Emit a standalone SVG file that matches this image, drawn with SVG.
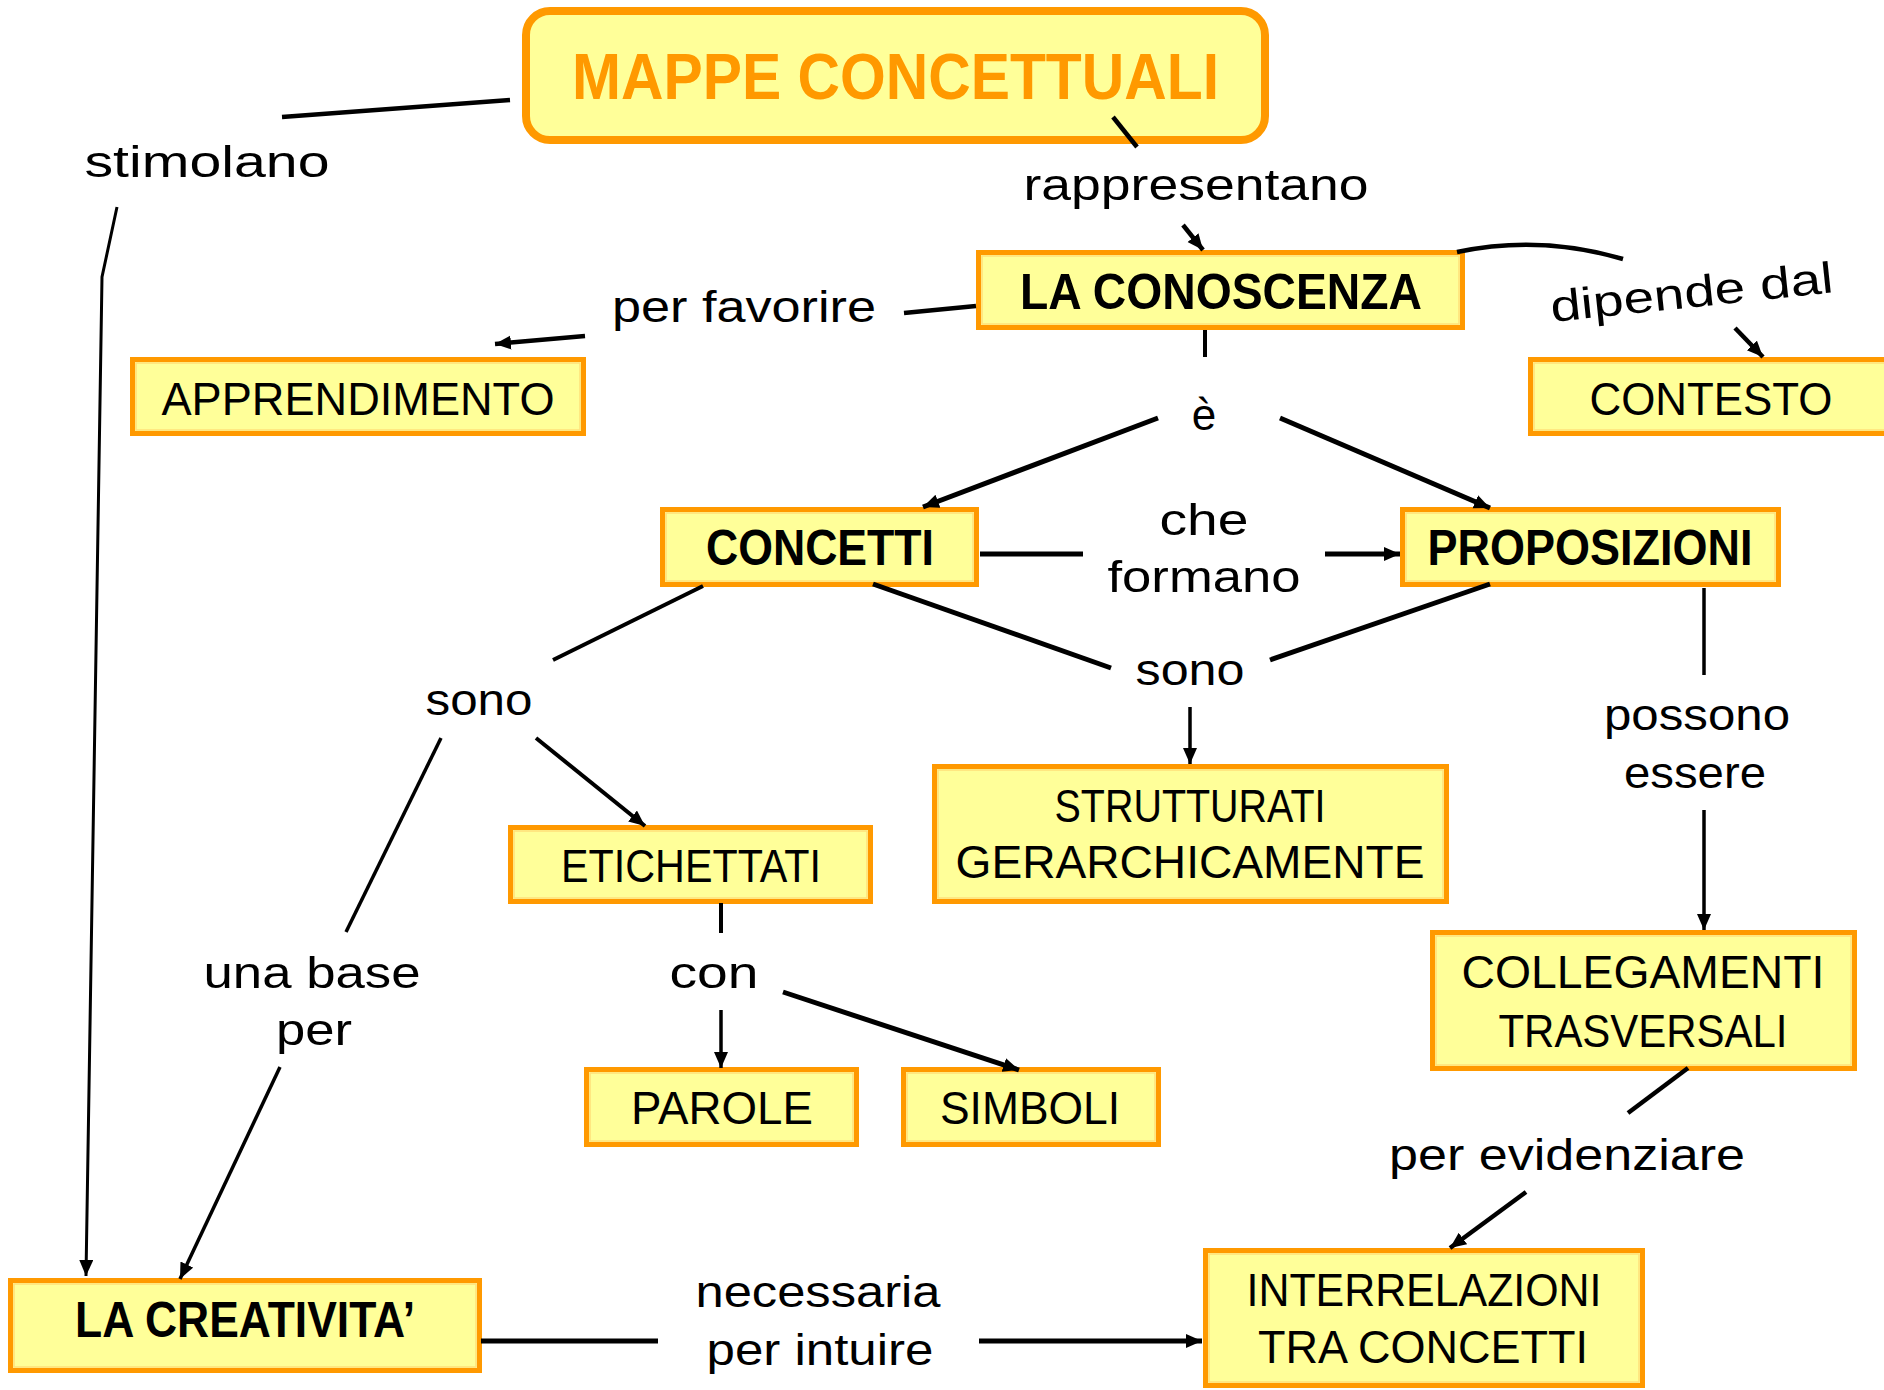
<svg xmlns="http://www.w3.org/2000/svg" width="1884" height="1390" viewBox="0 0 1884 1390">
<style>
.box{fill:#FFFF99;stroke:#FF9900;stroke-width:5}
.inner{fill:none;stroke:#FFE07A;stroke-width:1.5}
.t{font-family:"Liberation Sans",Arial,sans-serif;fill:#000;text-anchor:middle}
.n{font-size:46px}
.b{font-size:50px;font-weight:bold}
.lbl{font-size:44px}
.c{fill:none;stroke:#000;stroke-linecap:butt}
</style>
<defs>
<marker id="ah" markerUnits="userSpaceOnUse" markerWidth="18" markerHeight="16" refX="16" refY="7" orient="auto">
<path d="M0,0 L16,7 L0,14 z" fill="#000"/>
</marker>
</defs>
<rect width="1884" height="1390" fill="#fff"/>

<g id="labels">
<text class="t lbl" x="207" y="177" textLength="245" lengthAdjust="spacingAndGlyphs">stimolano</text>
<text class="t lbl" x="1196" y="200" textLength="345" lengthAdjust="spacingAndGlyphs">rappresentano</text>
<text class="t lbl" x="744" y="322" textLength="264" lengthAdjust="spacingAndGlyphs">per favorire</text>
<text class="t lbl" x="1552" y="322" style="text-anchor:start" transform="rotate(-6 1552 322)" textLength="284" lengthAdjust="spacingAndGlyphs">dipende dal</text>
<text class="t lbl" x="1204" y="430">è</text>
<text class="t lbl" x="1204" y="535" textLength="89" lengthAdjust="spacingAndGlyphs">che</text>
<text class="t lbl" x="1204" y="592" textLength="193" lengthAdjust="spacingAndGlyphs">formano</text>
<text class="t lbl" x="479" y="715" textLength="107" lengthAdjust="spacingAndGlyphs">sono</text>
<text class="t lbl" x="1190" y="685" textLength="109" lengthAdjust="spacingAndGlyphs">sono</text>
<text class="t lbl" x="1697" y="730" textLength="186" lengthAdjust="spacingAndGlyphs">possono</text>
<text class="t lbl" x="1695" y="788" textLength="142" lengthAdjust="spacingAndGlyphs">essere</text>
<text class="t lbl" x="312" y="988" textLength="217" lengthAdjust="spacingAndGlyphs">una base</text>
<text class="t lbl" x="314" y="1045" textLength="76" lengthAdjust="spacingAndGlyphs">per</text>
<text class="t lbl" x="714" y="988" textLength="89" lengthAdjust="spacingAndGlyphs">con</text>
<text class="t lbl" x="1567" y="1170" textLength="356" lengthAdjust="spacingAndGlyphs">per evidenziare</text>
<text class="t lbl" x="818" y="1307" textLength="245" lengthAdjust="spacingAndGlyphs">necessaria</text>
<text class="t lbl" x="820" y="1365" textLength="227" lengthAdjust="spacingAndGlyphs">per intuire</text>
</g>

<g id="node-mappe">
<rect x="526" y="11" width="739" height="129" rx="24" fill="#FFFF99" stroke="#FF9900" stroke-width="8"/>
<text class="t" x="895.5" y="99" style="font-size:64px;font-weight:bold;fill:#FF9900" textLength="647" lengthAdjust="spacingAndGlyphs">MAPPE CONCETTUALI</text>
</g>
<g id="node-conoscenza">
<rect class="box" x="978.5" y="252.5" width="484" height="75"/>
<rect class="inner" x="982" y="256" width="477" height="68"/>
<text class="t b" x="1221" y="309" textLength="402" lengthAdjust="spacingAndGlyphs">LA CONOSCENZA</text>
</g>
<g id="node-apprendimento">
<rect class="box" x="132.5" y="359.5" width="451" height="74"/>
<rect class="inner" x="136" y="363" width="444" height="67"/>
<text class="t n" x="358" y="415" textLength="393" lengthAdjust="spacingAndGlyphs">APPRENDIMENTO</text>
</g>
<g id="node-contesto">
<rect class="box" x="1530.5" y="359.5" width="361" height="74"/>
<rect class="inner" x="1534" y="363" width="354" height="67"/>
<text class="t n" x="1711" y="415" textLength="243" lengthAdjust="spacingAndGlyphs">CONTESTO</text>
</g>
<g id="node-concetti">
<rect class="box" x="662.5" y="509.5" width="314" height="75"/>
<rect class="inner" x="666" y="513" width="307" height="68"/>
<text class="t b" x="820" y="565" textLength="228" lengthAdjust="spacingAndGlyphs">CONCETTI</text>
</g>
<g id="node-proposizioni">
<rect class="box" x="1402.5" y="509.5" width="376" height="75"/>
<rect class="inner" x="1406" y="513" width="369" height="68"/>
<text class="t b" x="1590" y="565" textLength="325" lengthAdjust="spacingAndGlyphs">PROPOSIZIONI</text>
</g>
<g id="node-etichettati">
<rect class="box" x="510.5" y="827.5" width="360" height="74"/>
<rect class="inner" x="514" y="831" width="353" height="67"/>
<text class="t n" x="691" y="882" textLength="260" lengthAdjust="spacingAndGlyphs">ETICHETTATI</text>
</g>
<g id="node-strutturati">
<rect class="box" x="934.5" y="766.5" width="512" height="135"/>
<rect class="inner" x="938" y="770" width="505" height="128"/>
<text class="t n" x="1190" y="822" textLength="271" lengthAdjust="spacingAndGlyphs">STRUTTURATI</text>
<text class="t n" x="1190" y="878" textLength="469" lengthAdjust="spacingAndGlyphs">GERARCHICAMENTE</text>
</g>
<g id="node-collegamenti">
<rect class="box" x="1432.5" y="932.5" width="422" height="136"/>
<rect class="inner" x="1436" y="936" width="415" height="129"/>
<text class="t n" x="1643" y="988" textLength="363" lengthAdjust="spacingAndGlyphs">COLLEGAMENTI</text>
<text class="t n" x="1643" y="1047" textLength="289" lengthAdjust="spacingAndGlyphs">TRASVERSALI</text>
</g>
<g id="node-parole">
<rect class="box" x="586.5" y="1069.5" width="270" height="75"/>
<rect class="inner" x="590" y="1073" width="263" height="68"/>
<text class="t n" x="722" y="1124" textLength="182" lengthAdjust="spacingAndGlyphs">PAROLE</text>
</g>
<g id="node-simboli">
<rect class="box" x="903.5" y="1069.5" width="255" height="75"/>
<rect class="inner" x="907" y="1073" width="248" height="68"/>
<text class="t n" x="1030" y="1124" textLength="180" lengthAdjust="spacingAndGlyphs">SIMBOLI</text>
</g>
<g id="node-creativita">
<rect class="box" x="10.5" y="1280.5" width="469" height="90"/>
<rect class="inner" x="14" y="1284" width="462" height="83"/>
<text class="t b" x="245" y="1337" textLength="340" lengthAdjust="spacingAndGlyphs">LA CREATIVITA’</text>
</g>
<g id="node-interrelazioni">
<rect class="box" x="1205.5" y="1250.5" width="437" height="135"/>
<rect class="inner" x="1209" y="1254" width="430" height="128"/>
<text class="t n" x="1424" y="1306" textLength="355" lengthAdjust="spacingAndGlyphs">INTERRELAZIONI</text>
<text class="t n" x="1423" y="1363" textLength="330" lengthAdjust="spacingAndGlyphs">TRA CONCETTI</text>
</g>

<g id="connectors">
<line class="c" x1="282" y1="117" x2="510" y2="100" stroke-width="4.5"/>
<polyline class="c" points="117,207 102,277 86,1276" stroke-width="3" marker-end="url(#ah)"/>
<line class="c" x1="1113" y1="117" x2="1137" y2="147" stroke-width="4.5"/>
<line class="c" x1="1183" y1="225" x2="1203" y2="250" stroke-width="4.5" marker-end="url(#ah)"/>
<line class="c" x1="904" y1="313" x2="976" y2="306" stroke-width="4.5"/>
<line class="c" x1="585" y1="336" x2="495" y2="344" stroke-width="4.5" marker-end="url(#ah)"/>
<path class="c" d="M1457,252 Q1540,234.5 1623,259" stroke-width="4.5"/>
<line class="c" x1="1735" y1="328" x2="1763" y2="357" stroke-width="4.5" marker-end="url(#ah)"/>
<line class="c" x1="1205" y1="330" x2="1205" y2="357" stroke-width="4"/>
<line class="c" x1="1158" y1="418" x2="923" y2="507" stroke-width="5" marker-end="url(#ah)"/>
<line class="c" x1="1280" y1="418" x2="1490" y2="508" stroke-width="5" marker-end="url(#ah)"/>
<line class="c" x1="980" y1="554" x2="1083" y2="554" stroke-width="5"/>
<line class="c" x1="1325" y1="554" x2="1400" y2="554" stroke-width="5" marker-end="url(#ah)"/>
<line class="c" x1="703" y1="586" x2="553" y2="660" stroke-width="4"/>
<line class="c" x1="536" y1="738" x2="645" y2="826" stroke-width="4" marker-end="url(#ah)"/>
<line class="c" x1="441" y1="738" x2="346" y2="932" stroke-width="3.5"/>
<line class="c" x1="280" y1="1067" x2="180" y2="1279" stroke-width="3.5" marker-end="url(#ah)"/>
<line class="c" x1="873" y1="584" x2="1111" y2="668" stroke-width="5"/>
<line class="c" x1="1490" y1="584" x2="1270" y2="660" stroke-width="5"/>
<line class="c" x1="1190" y1="707" x2="1190" y2="764" stroke-width="3.5" marker-end="url(#ah)"/>
<line class="c" x1="1704" y1="588" x2="1704" y2="675" stroke-width="3.5"/>
<line class="c" x1="1704" y1="810" x2="1704" y2="930" stroke-width="3.5" marker-end="url(#ah)"/>
<line class="c" x1="721" y1="903" x2="721" y2="933" stroke-width="4"/>
<line class="c" x1="721" y1="1010" x2="721" y2="1068" stroke-width="3.5" marker-end="url(#ah)"/>
<line class="c" x1="783" y1="992" x2="1019" y2="1070" stroke-width="5" marker-end="url(#ah)"/>
<line class="c" x1="1688" y1="1068" x2="1628" y2="1113" stroke-width="4.5"/>
<line class="c" x1="1526" y1="1192" x2="1450" y2="1248" stroke-width="4.5" marker-end="url(#ah)"/>
<line class="c" x1="481" y1="1341" x2="658" y2="1341" stroke-width="5"/>
<line class="c" x1="979" y1="1341" x2="1202" y2="1341" stroke-width="5" marker-end="url(#ah)"/>
</g>
</svg>
